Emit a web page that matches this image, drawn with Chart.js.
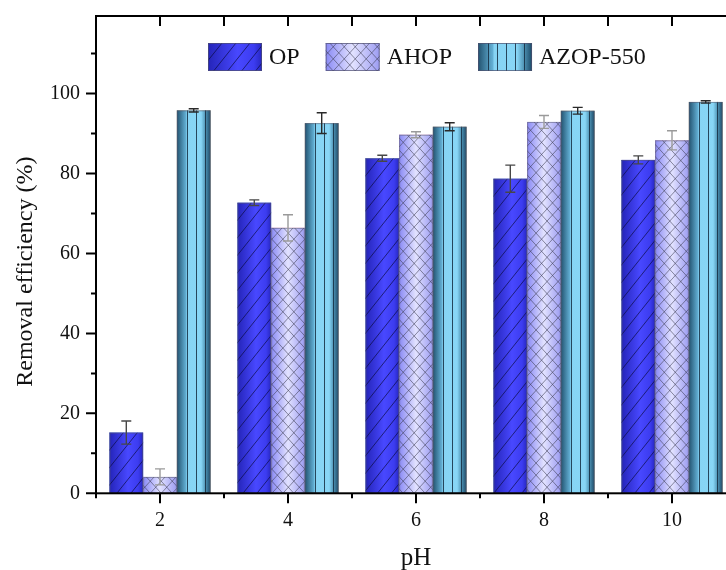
<!DOCTYPE html>
<html>
<head>
<meta charset="utf-8">
<script src="https://cdn.jsdelivr.net/npm/chart.js@4.4.1/dist/chart.umd.min.js"></script>
<style>
  html, body { margin: 0; padding: 0; background: #fff; overflow: hidden; }
  #wrap { width: 760px; height: 570px; }
</style>
</head>
<body>
<div id="wrap"><canvas id="c" width="760" height="570"></canvas></div>
<script>
/* Removal efficiency vs pH — grouped bars with patterned fills + error bars. */
const FONT = "'Liberation Serif', 'Times New Roman', serif";

const phLabels = ['2', '4', '6', '8', '10'];
const opValues = [15.2, 72.7, 83.8, 78.7, 83.4];
const opErrors = [2.9, 0.7, 0.75, 3.4, 1.0];
const ahopValues = [4.1, 66.4, 89.7, 92.9, 88.3];
const ahopErrors = [2.0, 3.3, 0.75, 1.6, 2.4];
const azopValues = [95.8, 92.6, 91.7, 95.7, 97.9];
const azopErrors = [0.4, 2.6, 1.0, 0.85, 0.3];
const yTickValues = [0, 20, 40, 60, 80, 100];
const yMinorValues = [10, 30, 50, 70, 90, 110];
const Y_MAX = 119.4;

function hatch(ctx, x, y, w, h, step, slope, dir, color) {
  ctx.save();
  ctx.beginPath(); ctx.rect(x, y, w, h); ctx.clip();
  ctx.strokeStyle = color; ctx.lineWidth = 0.8;
  ctx.beginPath();
  const run = h / slope;
  for (let xb = x - run - step; xb < x + w + run + step; xb += step) {
    ctx.moveTo(xb, y + h); ctx.lineTo(xb + dir * run, y);
  }
  ctx.stroke();
  ctx.restore();
}

const PAINT = {
  op(ctx, x, y, w, h) {
    const g = ctx.createLinearGradient(x, 0, x + w, 0);
    g.addColorStop(0, '#2424b8'); g.addColorStop(0.55, '#4848ff');
    g.addColorStop(0.85, '#3c3cf0'); g.addColorStop(1, '#2626c0');
    ctx.fillStyle = g; ctx.fillRect(x, y, w, h);
    hatch(ctx, x, y, w, h, 14, 1.25, 1, 'rgba(10,10,60,0.85)');
  },
  ahop(ctx, x, y, w, h) {
    const g = ctx.createLinearGradient(x, 0, x + w, 0);
    g.addColorStop(0, '#8a8af5'); g.addColorStop(0.5, '#e2e2ff'); g.addColorStop(1, '#9c9cf2');
    ctx.fillStyle = g; ctx.fillRect(x, y, w, h);
    hatch(ctx, x, y, w, h, 11, 1.1, 1, 'rgba(60,60,80,0.7)');
    hatch(ctx, x, y, w, h, 11, 1.1, -1, 'rgba(60,60,80,0.7)');
  },
  azop(ctx, x, y, w, h) {
    const g = ctx.createLinearGradient(x, 0, x + w, 0);
    g.addColorStop(0, '#22526f'); g.addColorStop(0.27, '#62afd4'); g.addColorStop(0.3, '#86d4f4');
    g.addColorStop(0.72, '#88d6f6'); g.addColorStop(0.85, '#4f93b4'); g.addColorStop(1, '#1a4866');
    ctx.fillStyle = g; ctx.fillRect(x, y, w, h);
    ctx.save();
    ctx.strokeStyle = 'rgba(20,45,65,0.85)'; ctx.lineWidth = 1;
    ctx.beginPath();
    for (let lx = x + 10; lx < x + w - 4; lx += 9) {
      ctx.moveTo(Math.round(lx) + 0.5, y); ctx.lineTo(Math.round(lx) + 0.5, y + h);
    }
    ctx.stroke();
    ctx.restore();
  },
};

const decor = {
  id: 'decor',
  afterDatasetsDraw(chart) {
    const { ctx, chartArea: a, scales: { y } } = chart;
    ctx.save();
    ctx.beginPath(); ctx.rect(a.left, a.top, a.right - a.left, a.bottom - a.top); ctx.clip();
    chart.data.datasets.forEach((ds, di) => {
      chart.getDatasetMeta(di).data.forEach((bar) => {
        const { x, y: top, base, width } = bar.getProps(['x', 'y', 'base', 'width'], true);
        const left = x - width / 2, h = base - top;
        PAINT[ds.paint](ctx, left, top, width, h);
        ctx.strokeStyle = 'rgba(90,90,110,0.55)'; ctx.lineWidth = 1;
        ctx.strokeRect(left + 0.5, top + 0.5, width - 1, h - 1);
      });
    });
    // error bars
    chart.data.datasets.forEach((ds, di) => {
      chart.getDatasetMeta(di).data.forEach((bar, i) => {
        const v = ds.data[i], e = ds.errors[i];
        const yt = y.getPixelForValue(v + e), yb = y.getPixelForValue(v - e);
        ctx.strokeStyle = ds.errColor; ctx.lineWidth = 1.4;
        ctx.beginPath();
        ctx.moveTo(bar.x, yt); ctx.lineTo(bar.x, yb);
        ctx.moveTo(bar.x - 5, yt); ctx.lineTo(bar.x + 5, yt);
        ctx.moveTo(bar.x - 5, yb); ctx.lineTo(bar.x + 5, yb);
        ctx.stroke();
      });
    });
    ctx.restore();
  },
  afterDraw(chart) {
    const { ctx, chartArea: a, scales: { x, y } } = chart;
    ctx.save();
    // frame + ticks (left/bottom out, top/right in)
    ctx.strokeStyle = '#000'; ctx.lineWidth = 2;
    ctx.strokeRect(a.left, a.top, a.right - a.left, a.bottom - a.top);
    ctx.beginPath();
    yTickValues.forEach((v) => {
      const py = y.getPixelForValue(v);
      ctx.moveTo(a.left - 10, py); ctx.lineTo(a.left, py);
      ctx.moveTo(a.right - 10, py); ctx.lineTo(a.right, py);
    });
    yMinorValues.forEach((v) => {
      const py = y.getPixelForValue(v);
      ctx.moveTo(a.left - 5, py); ctx.lineTo(a.left, py);
      ctx.moveTo(a.right - 5, py); ctx.lineTo(a.right, py);
    });
    const half = (x.getPixelForValue(1) - x.getPixelForValue(0)) / 2;
    phLabels.forEach((_, i) => {
      const px = x.getPixelForValue(i);
      ctx.moveTo(px, a.bottom); ctx.lineTo(px, a.bottom + 10);
      ctx.moveTo(px, a.top); ctx.lineTo(px, a.top + 10);
    });
    for (let i = 0; i <= phLabels.length; i++) {
      const px = x.getPixelForValue(0) - half + 2 * half * i;
      ctx.moveTo(px, a.bottom); ctx.lineTo(px, a.bottom + 5);
      ctx.moveTo(px, a.top); ctx.lineTo(px, a.top + 10);
    }
    ctx.stroke();

    // legend inside the plot
    ctx.font = `24px ${FONT}`;
    ctx.textBaseline = 'middle'; ctx.textAlign = 'left';
    let lx = a.left + 112;
    const ly = a.top + 27, bw = 54, bh = 28;
    chart.data.datasets.forEach((ds) => {
      PAINT[ds.paint](ctx, lx, ly, bw, bh);
      ctx.strokeStyle = 'rgba(80,80,110,0.7)'; ctx.lineWidth = 1;
      ctx.strokeRect(lx + 0.5, ly + 0.5, bw - 1, bh - 1);
      ctx.fillStyle = '#111';
      ctx.fillText(ds.label, lx + bw + 7, ly + bh / 2 + 1);
      lx += bw + 7 + ctx.measureText(ds.label).width + 26;
    });

    // y-axis title
    ctx.fillStyle = '#111';
    ctx.translate(26, (a.top + a.bottom) / 2 + 17);
    ctx.rotate(-Math.PI / 2);
    ctx.textAlign = 'center';
    ctx.fillText('Removal efficiency (%)', 0, 0);
    ctx.restore();
  },
};

new Chart(document.getElementById('c'), {
  type: 'bar',
  data: {
    labels: phLabels,
    datasets: [
      { label: 'OP', data: opValues, errors: opErrors, paint: 'op', errColor: '#474747' },
      { label: 'AHOP', data: ahopValues, errors: ahopErrors, paint: 'ahop', errColor: '#9a9a9a' },
      { label: 'AZOP-550', data: azopValues, errors: azopErrors, paint: 'azop', errColor: '#2a2a2a' },
    ],
  },
  options: {
    responsive: false, animation: false,
    layout: { padding: { left: 0, top: 16, right: 24, bottom: 0 } },
    datasets: { bar: { backgroundColor: 'rgba(0,0,0,0)', borderWidth: 0, categoryPercentage: 0.79, barPercentage: 1 } },
    plugins: { legend: { display: false }, tooltip: { enabled: false } },
    scales: {
      x: {
        grid: { display: false, drawTicks: false }, border: { display: false },
        ticks: { font: { family: FONT, size: 20 }, color: '#111', padding: 15, maxRotation: 0 },
        title: { display: true, text: 'pH', font: { family: FONT, size: 25, lineHeight: 0.9 }, color: '#111', padding: 0 },
        afterFit(s) { s.height = 76.7; s.paddingLeft = 0; s.paddingRight = 0; },
      },
      y: {
        min: 0, max: Y_MAX,
        grid: { display: false, drawTicks: false }, border: { display: false },
        afterBuildTicks(s) { s.ticks = yTickValues.map((v) => ({ value: v })); },
        ticks: { font: { family: FONT, size: 20 }, color: '#111', padding: 16 },
        afterFit(s) { s.width = 96; s.paddingTop = 0; s.paddingBottom = 0; },
      },
    },
  },
  plugins: [decor],
});
</script>
</body>
</html>
